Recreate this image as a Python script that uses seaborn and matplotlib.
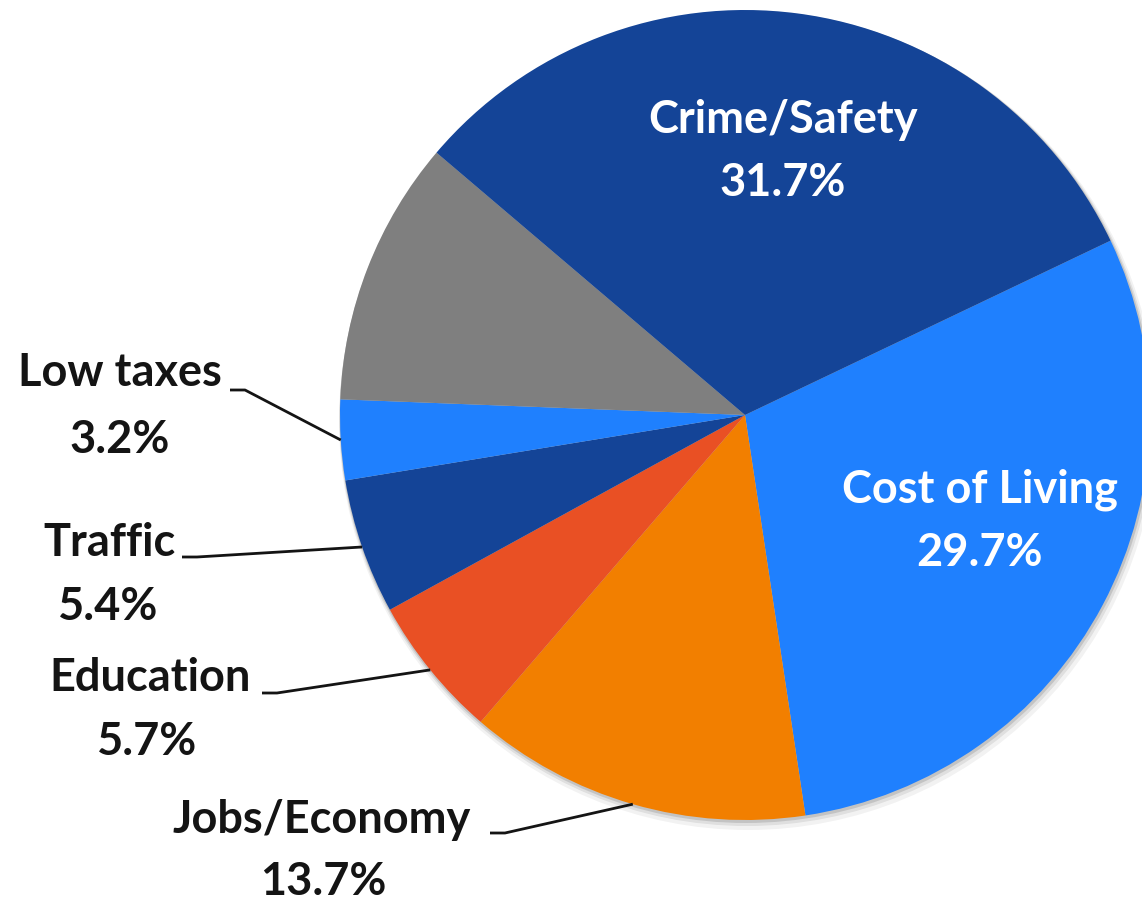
import numpy as np
import matplotlib
matplotlib.use("Agg")
import matplotlib.pyplot as plt
import seaborn as sns

# slices, clockwise starting from the Cost of Living / Crime boundary
categories = ["Cost of Living", "Jobs/Economy", "Education", "Traffic",
              "Low taxes", "Other", "Crime/Safety"]
shares = [29.7, 13.7, 5.7, 5.4, 3.2, 10.6, 31.7]
colors = ["#1f80fe", "#f27f00", "#e95024", "#144497",
          "#1f80fe", "#7f7f7f", "#144497"]

sns.set_theme(style="white")
plt.rcParams["font.family"] = ["Lato", "DejaVu Sans"]

W, H = 1142, 902
fig = plt.figure(figsize=(W / 100, H / 100), dpi=100)
ax = fig.add_axes([0, 0, 1, 1])

cx, cy, r = 745, H - 415, 405

# soft shadow under the pie
for k, a in [(10, 0.05), (6, 0.08), (3, 0.12)]:
    ax.add_patch(plt.Circle((cx + k * 0.3, cy - k * 0.6), r + k * 0.4,
                            color="black", alpha=a, lw=0, zorder=0))

wedges, _ = ax.pie(shares, colors=colors, startangle=25.5, counterclock=False,
                   center=(cx, cy), radius=r,
                   wedgeprops=dict(linewidth=0, zorder=1))
ax.set_xlim(0, W)
ax.set_ylim(0, H)
ax.axis("off")

fs = 32.5
txt = "#141414"

# labels inside the two big slices
inside = {"Crime/Safety": (783, 120, 183), "Cost of Living": (980, 490, 553)}
for name, (x, y1, y2) in inside.items():
    v = shares[categories.index(name)]
    ax.text(x, H - y1, name, ha="center", va="center", fontsize=fs,
            fontweight="bold", color="white")
    ax.text(x, H - y2, f"{v:.1f}%", ha="center", va="center", fontsize=fs,
            fontweight="bold", color="white")

# outside labels: (name, label x, name y, value x, value y, line start x, line start y)
outside = [
    ("Low taxes", 120, 373, 120, 440, 230, 390),
    ("Traffic", 110, 543, 108, 607, 182, 557),
    ("Education", 150, 678, 147, 742, 262, 693),
    ("Jobs/Economy", 322, 820, 323, 882, 490, 833),
]
for name, lx, ly, vx, vy, sx, sy in outside:
    i = categories.index(name)
    w = wedges[i]
    mid = np.deg2rad((w.theta1 + w.theta2) / 2)
    ex, ey = cx + r * np.cos(mid), cy + r * np.sin(mid)
    ax.text(lx, H - ly, name, ha="center", va="center", fontsize=fs,
            fontweight="bold", color=txt)
    ax.text(vx, H - vy, f"{shares[i]:.1f}%", ha="center", va="center",
            fontsize=fs, fontweight="bold", color=txt)
    ax.plot([sx, sx + 15, ex], [H - sy, H - sy, ey], color=txt, lw=2,
            solid_capstyle="butt", zorder=3)

fig.savefig("out.png", dpi=100)
